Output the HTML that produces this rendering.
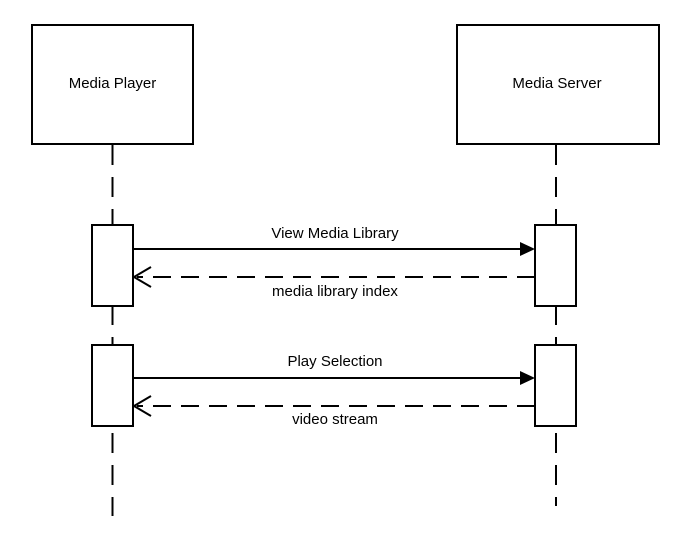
<!DOCTYPE html>
<html><head><style>html,body{margin:0;padding:0;background:#fff;}</style></head>
<body>
<svg width="685" height="541" xmlns="http://www.w3.org/2000/svg" font-family="Liberation Sans, Arial, sans-serif" font-size="15" fill="#000">
<rect width="685" height="541" fill="#fff"/>
<g stroke="#000" stroke-width="2" fill="none">
<line x1="112.5" y1="145" x2="112.5" y2="516" stroke-dasharray="20 12"/>
<line x1="556" y1="145" x2="556" y2="506" stroke-dasharray="20 12"/>
</g>
<g stroke="#000" stroke-width="2" fill="#fff">
<rect x="32" y="25" width="161" height="119"/>
<rect x="457" y="25" width="202" height="119"/>
<rect x="92" y="225" width="41" height="81"/>
<rect x="535" y="225" width="41" height="81"/>
<rect x="92" y="345" width="41" height="81"/>
<rect x="535" y="345" width="41" height="81"/>
</g>
<g stroke="#000" stroke-width="2" fill="none">
<line x1="133" y1="249" x2="522" y2="249"/>
<line x1="133" y1="378" x2="522" y2="378"/>
<line x1="535" y1="277" x2="137" y2="277" stroke-dasharray="18 10"/>
<line x1="535" y1="406" x2="137" y2="406" stroke-dasharray="18 10"/>
<polyline points="151,267 134,277 151,287"/>
<polyline points="151,396 134,406 151,416"/>
</g>
<polygon points="520,242 535,249 520,256" fill="#000"/>
<polygon points="520,371 535,378 520,385" fill="#000"/>
<g text-anchor="middle">
<text x="112.5" y="88">Media Player</text>
<text x="557" y="88">Media Server</text>
<text x="335" y="238">View Media Library</text>
<text x="335" y="296">media library index</text>
<text x="335" y="366">Play Selection</text>
<text x="335" y="424">video stream</text>
</g>
</svg>
</body></html>
